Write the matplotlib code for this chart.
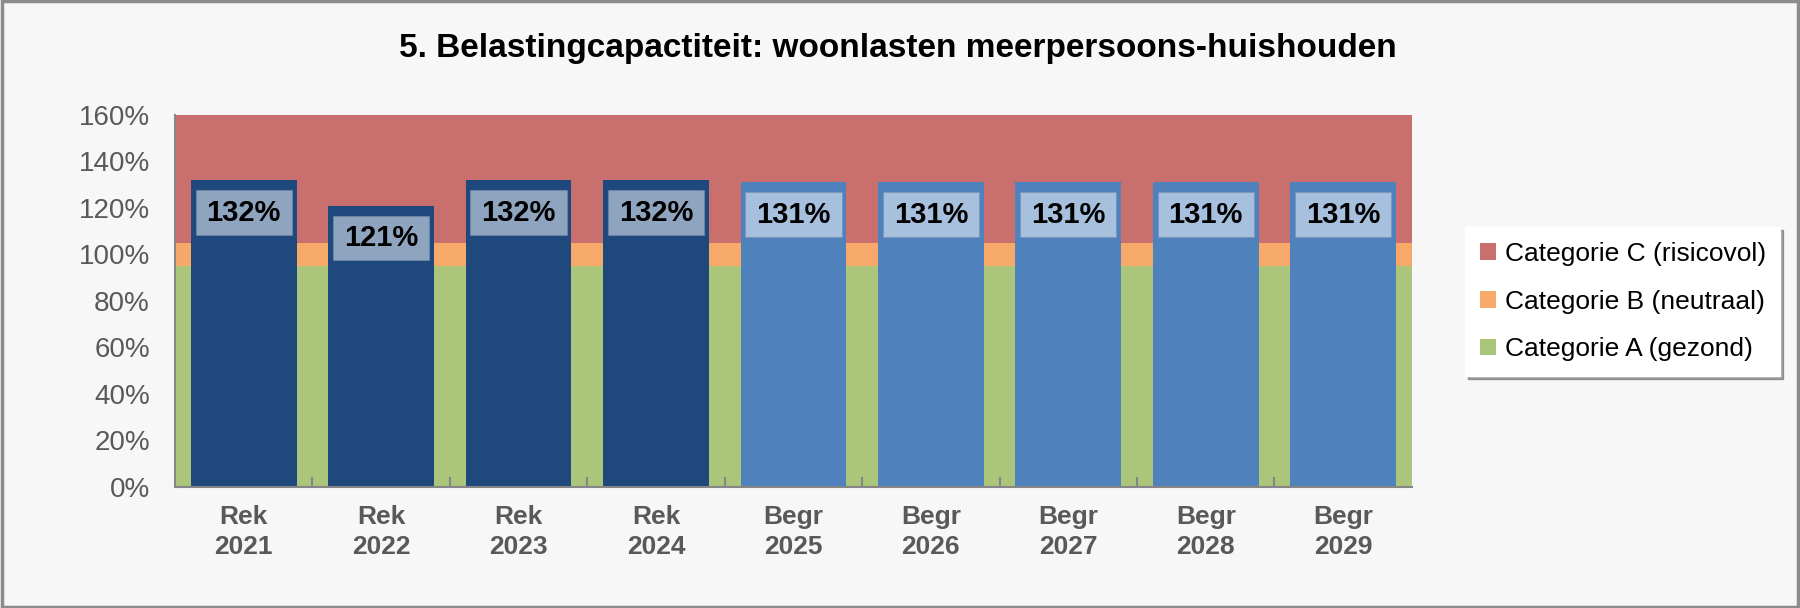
import numpy as np
import matplotlib
matplotlib.use("Agg")
import matplotlib.pyplot as plt
from matplotlib.patches import Rectangle

# categories and values
soort = ["Rek", "Rek", "Rek", "Rek", "Begr", "Begr", "Begr", "Begr", "Begr"]
jaren = ["2021", "2022", "2023", "2024", "2025", "2026", "2027", "2028", "2029"]
waarden = [132, 121, 132, 132, 131, 131, 131, 131, 131]

# background bands (stacked)
cat_a = [95, 95, 95, 95, 95, 95, 95, 95, 95]
cat_b = [10, 10, 10, 10, 10, 10, 10, 10, 10]
cat_c = [55, 55, 55, 55, 55, 55, 55, 55, 55]

kleur_a = "#ABC67A"
kleur_b = "#F7A96A"
kleur_c = "#C96F6E"
kleur_rek = "#1F497D"
kleur_begr = "#4F81BD"
grijs = "#595959"

plt.rcParams["font.family"] = ["Liberation Sans", "DejaVu Sans"]

fig = plt.figure(figsize=(18, 6.08), dpi=100)
fig.patch.set_facecolor("#F7F7F7")
fig.patches.append(Rectangle((0.001, 0.002), 0.998, 0.996, transform=fig.transFigure,
                             fill=False, edgecolor="#8C8C8C", linewidth=2.5))

ax = fig.add_axes([0.0972, 0.199, 0.6872, 0.612])
ax.set_facecolor("#F7F7F7")

x = np.arange(len(jaren))
ax.bar(x, cat_a, width=1.0, color=kleur_a, label="Categorie A (gezond)", zorder=1)
ax.bar(x, cat_b, width=1.0, bottom=cat_a, color=kleur_b, label="Categorie B (neutraal)", zorder=1)
ax.bar(x, cat_c, width=1.0, bottom=np.add(cat_a, cat_b), color=kleur_c,
       label="Categorie C (risicovol)", zorder=1)

kleuren = [kleur_rek if s == "Rek" else kleur_begr for s in soort]
ax.bar(x, waarden, width=0.77, color=kleuren, zorder=2)

# data labels in a light box just under the top of each bar
w = np.array(waarden)
ax.bar(x, 19.3, width=0.70, bottom=w - 23.6, color="white", alpha=0.5,
       edgecolor="#7A90B0", linewidth=0.8, zorder=3)
for xi, v in zip(x, waarden):
    ax.text(xi, v - 14, f"{v}%", ha="center", va="center", fontsize=21,
            fontweight="bold", color="black", zorder=4)

ax.set_xlim(-0.5, len(jaren) - 0.5)
ax.set_ylim(0, 160)
ax.set_yticks(np.arange(0, 161, 20))
ax.set_yticklabels([f"{t}%" for t in range(0, 161, 20)], fontsize=20, color=grijs)
ax.tick_params(axis="y", length=0, pad=18)

ax.set_xticks(x)
ax.set_xticklabels([f"{s}\n{j}" for s, j in zip(soort, jaren)], fontsize=19,
                   fontweight="bold", color=grijs, linespacing=1.3)
ax.tick_params(axis="x", length=0, pad=13)
ax.set_xticks(np.arange(0.5, len(jaren) - 1, 1), minor=True)
ax.tick_params(axis="x", which="minor", direction="in", length=7, color="#868686", width=1.5)

for s in ["top", "right"]:
    ax.spines[s].set_visible(False)
for s in ["left", "bottom"]:
    ax.spines[s].set_color("#868686")
    ax.spines[s].set_linewidth(1.5)
    ax.spines[s].set_zorder(5)

fig.text(0.499, 0.921, "5. Belastingcapactiteit: woonlasten meerpersoons-huishouden",
         ha="center", va="center", fontsize=24, fontweight="bold", color="black")

handles, labels = ax.get_legend_handles_labels()
leg = fig.legend(handles[::-1], labels[::-1], loc="upper left",
                 bbox_to_anchor=(0.814, 0.626), fontsize=19, frameon=True,
                 shadow=True, fancybox=False, handlelength=0.6, handleheight=0.6,
                 handletextpad=0.35, labelspacing=0.9, borderpad=0.55, borderaxespad=0)
leg.get_frame().set_facecolor("white")
leg.get_frame().set_edgecolor("white")

fig.savefig("out.png", dpi=100, facecolor=fig.get_facecolor())
